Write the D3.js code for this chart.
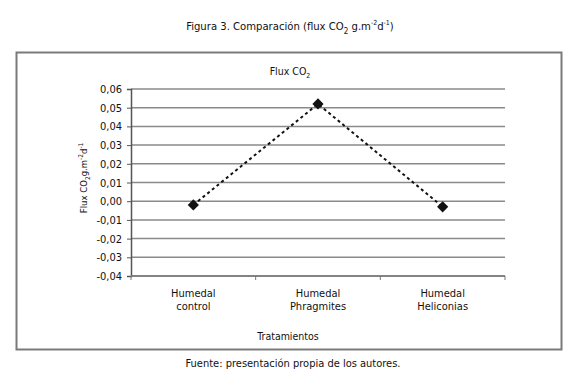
<!DOCTYPE html>
<html>
<head>
<meta charset="utf-8">
<script src="https://cdn.jsdelivr.net/npm/d3@7"></script>
<style>
body { margin: 0; background: #fff; }
text { font-family: "DejaVu Sans Condensed", "Liberation Sans Narrow", sans-serif; fill: #111; }
</style>
</head>
<body>
<svg></svg>
<script>
const width = 580;
const height = 391;

const categories = [['Humedal', 'control'], ['Humedal', 'Phragmites'], ['Humedal', 'Heliconias']];
const values = [-0.002, 0.052, -0.003];
const yTicks = [0.06, 0.05, 0.04, 0.03, 0.02, 0.01, 0, -0.01, -0.02, -0.03, -0.04];

const margin = { left: 131, right: 75, top: 89, bottom: 115 };

const svg = d3.select('svg')
    .attr('width', width)
    .attr('height', height);

// outer frame
svg.append('rect')
    .attr('x', 16.5)
    .attr('y', 52.5)
    .attr('width', 545)
    .attr('height', 297)
    .attr('fill', 'none')
    .attr('stroke', '#7a7a7a')
    .attr('stroke-width', 2);

const x = d3.scaleBand()
    .domain(d3.range(categories.length))
    .range([margin.left, width - margin.right]);

const y = d3.scaleLinear()
    .domain([-0.04, 0.06])
    .range([height - margin.bottom, margin.top]);

const fmt = d => d3.format('.2f')(d).replace('.', ',').replace('−', '-');

// grid lines
svg.append('g')
    .selectAll('line')
    .data(yTicks)
    .enter().append('line')
    .attr('x1', margin.left)
    .attr('x2', width - margin.right)
    .attr('y1', d => y(d))
    .attr('y2', d => y(d))
    .attr('stroke', '#8a8a8a')
    .attr('stroke-width', 1.5);

// y axis
const yAxis = svg.append('g')
    .attr('transform', `translate(${margin.left},0)`)
    .call(d3.axisLeft(y).tickValues(yTicks).tickFormat(fmt).tickSize(4).tickPadding(5));
yAxis.select('.domain').attr('stroke', '#555').attr('stroke-width', 1.5);
yAxis.selectAll('.tick line').attr('stroke', '#555');
yAxis.selectAll('text').attr('font-size', 11).attr('fill', '#111')
    .attr('font-family', '"DejaVu Sans Condensed", sans-serif');

// x axis
const xAxis = svg.append('g')
    .attr('transform', `translate(0,${y(-0.04)})`);
xAxis.append('line')
    .attr('x1', margin.left)
    .attr('x2', width - margin.right)
    .attr('stroke', '#777')
    .attr('stroke-width', 1.5);
xAxis.selectAll('line.tk')
    .data(d3.range(categories.length + 1))
    .enter().append('line')
    .attr('class', 'tk')
    .attr('x1', i => margin.left + i * x.bandwidth())
    .attr('x2', i => margin.left + i * x.bandwidth())
    .attr('y1', 0)
    .attr('y2', 4)
    .attr('stroke', '#777');

const lbl = xAxis.selectAll('text.cat')
    .data(categories)
    .enter().append('text')
    .attr('class', 'cat')
    .attr('text-anchor', 'middle')
    .attr('font-size', 11)
    .attr('x', (d, i) => x(i) + x.bandwidth() / 2);
lbl.append('tspan').attr('y', 21).text(d => d[0]);
lbl.append('tspan').attr('y', 34).attr('x', (d, i) => x(i) + x.bandwidth() / 2).text(d => d[1]);

// line + markers
const line = d3.line()
    .x((d, i) => x(i) + x.bandwidth() / 2)
    .y(d => y(d));

svg.append('path')
    .datum(values)
    .attr('d', line)
    .attr('fill', 'none')
    .attr('stroke', '#111')
    .attr('stroke-width', 2)
    .attr('stroke-dasharray', '3,3');

svg.selectAll('path.pt')
    .data(values)
    .enter().append('path')
    .attr('class', 'pt')
    .attr('d', d3.symbol().type(d3.symbolDiamond2).size(80))
    .attr('transform', (d, i) => `translate(${x(i) + x.bandwidth() / 2},${y(d)})`)
    .attr('fill', '#111');

// titles
const title = svg.append('text')
    .attr('x', 290)
    .attr('y', 30)
    .attr('text-anchor', 'middle')
    .attr('font-size', 11.2);
title.append('tspan').text('Figura 3. Comparación (flux CO');
title.append('tspan').attr('font-size', 8).attr('dy', 4).text('2');
title.append('tspan').attr('dy', -4).text(' g.m');
title.append('tspan').attr('font-size', 7).attr('dy', -5).text('-2');
title.append('tspan').attr('dy', 5).text('d');
title.append('tspan').attr('font-size', 7).attr('dy', -5).text('-1');
title.append('tspan').attr('dy', 5).text(')');

const inner = svg.append('text')
    .attr('x', 290)
    .attr('y', 75)
    .attr('text-anchor', 'middle')
    .attr('font-size', 10.5);
inner.append('tspan').text('Flux CO');
inner.append('tspan').attr('font-size', 7).attr('dy', 3).text('2');

const yl = svg.append('text')
    .attr('transform', 'translate(87,178) rotate(-90)')
    .attr('text-anchor', 'middle')
    .attr('font-size', 9.5);
yl.append('tspan').text('Flux CO');
yl.append('tspan').attr('font-size', 6.5).attr('dy', 3).text('2');
yl.append('tspan').attr('dy', -3).text('g.m');
yl.append('tspan').attr('font-size', 6.5).attr('dy', -4).text('-2');
yl.append('tspan').attr('dy', 4).text('d');
yl.append('tspan').attr('font-size', 6.5).attr('dy', -4).text('-1');

svg.append('text')
    .attr('x', 293)
    .attr('y', 367)
    .attr('text-anchor', 'middle')
    .attr('font-size', 11)
    .text('Fuente: presentación propia de los autores.');

svg.append('text')
    .attr('x', 288)
    .attr('y', 340)
    .attr('text-anchor', 'middle')
    .attr('font-size', 10.5)
    .text('Tratamientos');
</script>
</body>
</html>
